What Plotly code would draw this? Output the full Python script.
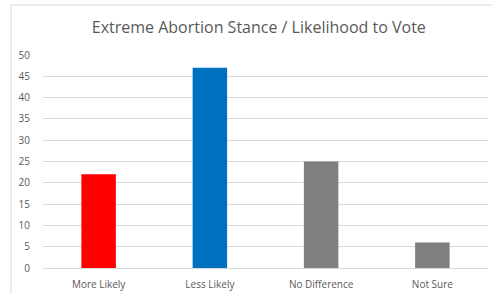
import plotly.graph_objects as go

categories = ["More Likely", "Less Likely", "No Difference", "Not Sure"]
values = [22, 47, 25, 6]
bar_colors = ["#ff0000", "#0070c0", "#7f7f7f", "#7f7f7f"]
y_ticks = [0, 5, 10, 15, 20, 25, 30, 35, 40, 45, 50]

FONT = "Open Sans, Lato, sans-serif"

fig = go.Figure(go.Bar(x=categories, y=values, marker=dict(color=bar_colors, line=dict(width=0)),
                       width=0.31, hoverinfo="x+y"))

fig.update_layout(
    width=492, height=294,
    margin=dict(l=43, r=4, t=55, b=26),
    paper_bgcolor="white", plot_bgcolor="white",
    font=dict(family=FONT, color="#595959", size=10),
    title=dict(text="Extreme Abortion Stance / Likelihood to Vote", x=0.526, xref="container",
               xanchor="center", y=0.908, yanchor="middle",
               font=dict(size=16, color="#595959", family=FONT)),
    showlegend=False,
    bargap=0.69,
)
fig.update_yaxes(range=[0, 50], tickvals=y_ticks, showgrid=True, gridcolor="#d9d9d9", gridwidth=1,
                 zeroline=False, showline=False, ticks="", ticklabelstandoff=12,
                 tickfont=dict(size=10, color="#595959"))
fig.update_xaxes(showline=True, linecolor="#d9d9d9", linewidth=1, ticks="", showgrid=False,
                 tickfont=dict(size=10, color="#595959"), ticklabelstandoff=7)
fig.add_shape(type="rect", xref="paper", yref="paper", x0=-0.0719, x1=1.2, y0=-0.3, y1=1.2347,
              line=dict(color="#d9d9d9", width=1), fillcolor="rgba(0,0,0,0)", layer="below")

fig.write_html("out.html", config={"displayModeBar": False},
               post_script="document.body.style.margin='0';document.body.style.overflow='hidden';")
